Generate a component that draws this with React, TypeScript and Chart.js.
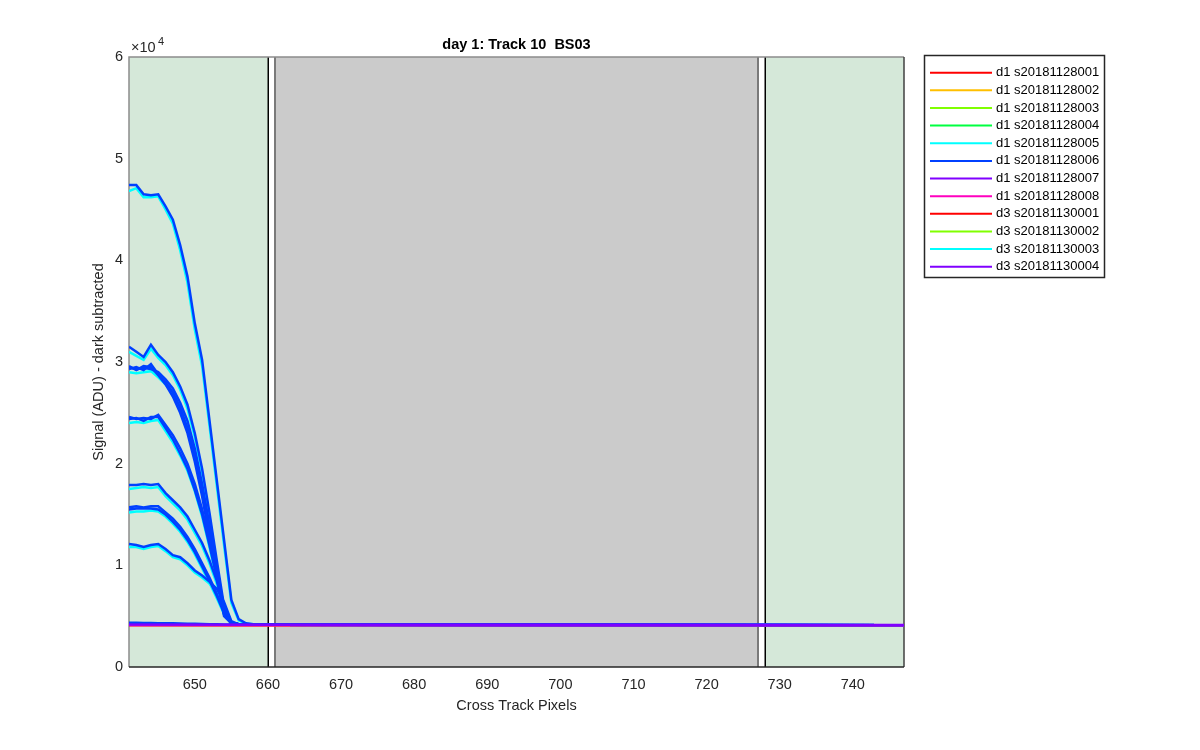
import { useEffect, useRef } from 'react';
import { Chart, registerables } from 'chart.js';

Chart.register(...registerables);

const FONT = '"Liberation Sans", Arial, Helvetica, sans-serif';

// Cross-track pixel positions of the sampled curves (last point: end of the flat tail)
const curveX = [641, 642, 643, 644, 645, 646, 647, 648, 649, 650, 651, 652, 653, 654, 655, 656, 657, 658, 659, 747];

// Blue (d1 s20181128006) top curve and its cyan twin (d1 s20181128005)
const c1Blue = [47400, 47400, 46500, 46400, 46500, 45300, 44000, 41500, 38400, 33800, 30200, 24300, 18400, 12500, 6600, 4700, 4300, 4200, 4150, 4100];
const c1Cyan = [46800, 47100, 46200, 46200, 46300, 45000, 43600, 41000, 37800, 33200, 29600, 23800, 17900, 12000, 6300, 4600, 4250, 4200, 4150, 4100];
const c2Blue = [31500, 31000, 30500, 31700, 30700, 30000, 29000, 27600, 25800, 23000, 19500, 15200, 10500, 6000, 4300, 4200, 4150, 4150, 4150, 4100];
const c2Cyan = [31000, 30600, 30200, 31300, 30400, 29700, 28700, 27300, 25400, 22600, 19100, 14800, 10100, 5700, 4300, 4200, 4150, 4150, 4150, 4100];
const c3aBlue = [29500, 29300, 29400, 29300, 29000, 28300, 27400, 26000, 24200, 21500, 18000, 14000, 9800, 5500, 4300, 4200, 4150, 4150, 4150, 4100];
const c3bBlue = [29300, 29500, 29200, 29800, 28800, 28000, 27000, 25500, 23500, 20800, 17300, 13300, 9200, 5200, 4300, 4200, 4150, 4150, 4150, 4100];
const c3cBlue = [29600, 29200, 29600, 29500, 28700, 27800, 26600, 25000, 23000, 20200, 16800, 12800, 8800, 5000, 4300, 4200, 4150, 4150, 4150, 4100];
const c3Cyan = [29000, 28900, 29000, 29100, 28500, 27800, 26900, 25500, 23700, 21000, 17500, 13500, 9400, 5200, 4300, 4200, 4150, 4150, 4150, 4100];
const c4aBlue = [24600, 24400, 24500, 24400, 24800, 23800, 22800, 21500, 20000, 18000, 15500, 12500, 9200, 6000, 4300, 4200, 4150, 4150, 4150, 4100];
const c4bBlue = [24400, 24500, 24200, 24600, 24600, 23500, 22400, 21000, 19500, 17400, 15000, 12000, 8800, 5700, 4300, 4200, 4150, 4150, 4150, 4100];
const c4Cyan = [24000, 24100, 24000, 24200, 24300, 23200, 22100, 20800, 19300, 17300, 14800, 11800, 8600, 5600, 4300, 4200, 4150, 4150, 4150, 4100];
const c5Blue = [17900, 17900, 18000, 17900, 18000, 17100, 16400, 15700, 14800, 13500, 12200, 10500, 8500, 6000, 4300, 4200, 4150, 4150, 4150, 4100];
const c5Cyan = [17500, 17600, 17700, 17600, 17700, 16800, 16100, 15400, 14500, 13200, 11900, 10200, 8200, 5800, 4300, 4200, 4150, 4150, 4150, 4100];
const c6aBlue = [15700, 15800, 15700, 15800, 15800, 15200, 14600, 13800, 12800, 11600, 10200, 8800, 7200, 5500, 4300, 4200, 4150, 4150, 4150, 4100];
const c6bBlue = [15500, 15600, 15600, 15600, 15500, 15000, 14300, 13500, 12500, 11300, 9900, 8500, 7000, 5300, 4300, 4200, 4150, 4150, 4150, 4100];
const c6Cyan = [15200, 15300, 15300, 15400, 15300, 14800, 14100, 13300, 12300, 11100, 9700, 8300, 6800, 5200, 4300, 4200, 4150, 4150, 4150, 4100];
const c7Blue = [12100, 12000, 11800, 12000, 12100, 11600, 11000, 10800, 10200, 9500, 9000, 8400, 7700, 6400, 4500, 4200, 4150, 4150, 4150, 4100];
const c7Cyan = [11800, 11800, 11600, 11800, 11900, 11400, 10800, 10600, 10000, 9300, 8800, 8200, 7500, 6200, 4400, 4200, 4150, 4150, 4150, 4100];
const c8Blue = [4350, 4350, 4330, 4330, 4300, 4300, 4300, 4280, 4250, 4250, 4220, 4200, 4200, 4180, 4170, 4160, 4150, 4150, 4150, 4100];

// Flat (dark-level) series
const flatX = [641, 660, 700, 747];
const flatD1s001 = [4110, 4100, 4100, 4100];
const flatD1s002 = [4120, 4110, 4110, 4100];
const flatD1s003 = [4130, 4120, 4120, 4110];
const flatD1s004 = [4130, 4120, 4120, 4110];
const flatD1s007 = [4180, 4170, 4170, 4160];
const flatD1s008 = [4100, 4090, 4090, 4080];
const flatD3s001 = [4110, 4100, 4100, 4100];
const flatD3s002 = [4120, 4110, 4110, 4100];
const flatD3s004 = [4150, 4140, 4140, 4130];

const legendLabels = [
  'd1 s20181128001', 'd1 s20181128002', 'd1 s20181128003', 'd1 s20181128004',
  'd1 s20181128005', 'd1 s20181128006', 'd1 s20181128007', 'd1 s20181128008',
  'd3 s20181130001', 'd3 s20181130002', 'd3 s20181130003', 'd3 s20181130004',
];
const legendColors = [
  '#FF0000', '#FFBF00', '#80FF00', '#00FF40', '#00FFFF', '#0040FF', '#8000FF', '#FF00BF',
  '#FF0000', '#80FF00', '#00FFFF', '#8000FF',
];

const xTicks = [650, 660, 670, 680, 690, 700, 710, 720, 730, 740];
const yTicks = [0, 10000, 20000, 30000, 40000, 50000, 60000];

const greenSpans = [[641, 660], [728, 747]];
const graySpans = [[661, 727]];
const blackEdges = [660, 728];
const grayEdges = [661, 727];

const pts = (xs: number[], ys: number[]) => xs.map((x, i) => ({ x, y: ys[i] }));

const BLUE = '#0040FF';
const CYAN = '#00FFFF';

export default function App() {
  const ref = useRef<HTMLCanvasElement | null>(null);

  useEffect(() => {
    if (!ref.current) return;

    const legendSeries = [flatD1s001, flatD1s002, flatD1s003, flatD1s004, c1Cyan, c1Blue, flatD1s007, flatD1s008, flatD3s001, flatD3s002, c2Cyan, flatD3s004];
    const legendIsCurve = [false, false, false, false, true, true, false, false, false, false, true, false];
    const legendOrder = [6, 6, 6, 6, 5, 3, 2, 1, 6, 6, 5, 0];

    const datasets: any[] = legendLabels.map((label, i) => ({
      label,
      data: pts(legendIsCurve[i] ? curveX : flatX, legendSeries[i]),
      borderColor: legendColors[i],
      backgroundColor: legendColors[i],
      borderWidth: legendIsCurve[i] ? 2.5 : 2,
      order: legendOrder[i],
    }));

    const extraCyan = [c3Cyan, c4Cyan, c5Cyan, c6Cyan, c7Cyan];
    const extraBlue = [c2Blue, c3aBlue, c3bBlue, c3cBlue, c4aBlue, c4bBlue, c5Blue, c6aBlue, c6bBlue, c7Blue, c8Blue];
    extraCyan.forEach((s) => datasets.push({ data: pts(curveX, s), borderColor: CYAN, borderWidth: 2.5, order: 5 }));
    extraBlue.forEach((s) => datasets.push({ data: pts(curveX, s), borderColor: BLUE, borderWidth: 2.5, order: 3 }));

    const decor = {
      id: 'matlabDecor',
      beforeDatasetsDraw(chart: any) {
        const { ctx, chartArea: a, scales } = chart;
        const xs = scales.x;
        ctx.save();
        ctx.fillStyle = '#D5E8D9';
        greenSpans.forEach(([s, e]) => {
          const x0 = xs.getPixelForValue(s);
          const x1 = xs.getPixelForValue(e);
          ctx.fillRect(x0, a.top, x1 - x0, a.bottom - a.top);
        });
        ctx.fillStyle = '#CBCBCB';
        graySpans.forEach(([s, e]) => {
          const x0 = xs.getPixelForValue(s);
          const x1 = xs.getPixelForValue(e);
          ctx.fillRect(x0, a.top, x1 - x0, a.bottom - a.top);
        });
        ctx.lineWidth = 2;
        ctx.strokeStyle = '#7A7A7A';
        grayEdges.forEach((v) => {
          const x = Math.round(xs.getPixelForValue(v));
          ctx.beginPath();
          ctx.moveTo(x, a.top);
          ctx.lineTo(x, a.bottom);
          ctx.stroke();
        });
        ctx.lineWidth = 1.5;
        ctx.strokeStyle = '#000000';
        blackEdges.forEach((v) => {
          const x = Math.round(xs.getPixelForValue(v)) + 0.25;
          ctx.beginPath();
          ctx.moveTo(x, a.top);
          ctx.lineTo(x, a.bottom);
          ctx.stroke();
        });
        // box
        ctx.lineWidth = 1.5;
        ctx.strokeStyle = '#8C8C8C';
        ctx.beginPath();
        ctx.moveTo(a.left, a.bottom);
        ctx.lineTo(a.left, a.top);
        ctx.lineTo(a.right, a.top);
        ctx.stroke();
        ctx.strokeStyle = '#404040';
        ctx.beginPath();
        ctx.moveTo(a.right, a.top);
        ctx.lineTo(a.right, a.bottom);
        ctx.stroke();
        ctx.strokeStyle = '#262626';
        ctx.beginPath();
        ctx.moveTo(a.left, a.bottom);
        ctx.lineTo(a.right, a.bottom);
        ctx.stroke();
        ctx.restore();
      },
      afterDraw(chart: any) {
        const { ctx, chartArea: a } = chart;
        const cx = (a.left + a.right) / 2;
        ctx.save();
        // title
        ctx.fillStyle = '#000000';
        ctx.font = `bold 14.5px ${FONT}`;
        ctx.textAlign = 'center';
        ctx.textBaseline = 'middle';
        ctx.fillText('day 1: Track 10  BS03', cx, 45);
        // axis titles
        ctx.fillStyle = '#262626';
        ctx.font = `14.5px ${FONT}`;
        ctx.fillText('Cross Track Pixels', cx, 706);
        ctx.save();
        ctx.translate(99, (a.top + a.bottom) / 2);
        ctx.rotate(-Math.PI / 2);
        ctx.fillText('Signal (ADU) - dark subtracted', 0, 0);
        ctx.restore();
        // exponent
        ctx.textAlign = 'left';
        ctx.textBaseline = 'alphabetic';
        ctx.font = `14.5px ${FONT}`;
        ctx.fillText('\u00D710', a.left + 2, 52);
        ctx.font = `11px ${FONT}`;
        ctx.fillText('4', a.left + 29, 45);
        // legend
        const lx = 924.5, ly = 55.5, lw = 180, lh = 222;
        ctx.fillStyle = '#FFFFFF';
        ctx.fillRect(lx, ly, lw, lh);
        ctx.lineWidth = 1.5;
        ctx.strokeStyle = '#262626';
        ctx.strokeRect(lx, ly, lw, lh);
        ctx.font = `13px ${FONT}`;
        ctx.textBaseline = 'middle';
        legendLabels.forEach((label, i) => {
          const y = 72.7 + i * 17.64;
          ctx.strokeStyle = legendColors[i];
          ctx.lineWidth = 2;
          ctx.beginPath();
          ctx.moveTo(930, y);
          ctx.lineTo(992, y);
          ctx.stroke();
          ctx.fillStyle = '#000000';
          ctx.fillText(label, 996, y);
        });
        ctx.restore();
      },
    };

    const chart = new Chart(ref.current, {
      type: 'line',
      data: { datasets },
      options: {
        responsive: false,
        animation: false,
        layout: { padding: { left: 0, right: 296, top: 57, bottom: 0 } },
        plugins: { legend: { display: false }, tooltip: { enabled: false }, title: { display: false } },
        elements: { point: { radius: 0 }, line: { tension: 0 } },
        scales: {
          x: {
            type: 'linear',
            min: 641,
            max: 747,
            afterBuildTicks: (s: any) => { s.ticks = xTicks.map((v) => ({ value: v })); },
            afterFit: (s: any) => { s.height = 83; },
            grid: { display: false, drawTicks: false },
            border: { display: false },
            ticks: { padding: 9, color: '#262626', font: { family: FONT, size: 14.5 }, maxRotation: 0, autoSkip: false },
          },
          y: {
            type: 'linear',
            min: 0,
            max: 60000,
            afterBuildTicks: (s: any) => { s.ticks = yTicks.map((v) => ({ value: v })); },
            afterFit: (s: any) => { s.width = 129; },
            grid: { display: false, drawTicks: false },
            border: { display: false },
            ticks: { padding: 6, color: '#262626', font: { family: FONT, size: 14.5 }, callback: (v: any) => String(Number(v) / 10000) },
          },
        },
      },
      plugins: [decor],
    } as any);

    return () => chart.destroy();
  }, []);

  return (
    <div style={{ position: 'fixed', left: 0, top: 0, width: 1200, height: 750, background: '#ffffff' }}>
      <canvas ref={ref} width={1200} height={750} style={{ display: 'block', width: 1200, height: 750 }} />
    </div>
  );
}
